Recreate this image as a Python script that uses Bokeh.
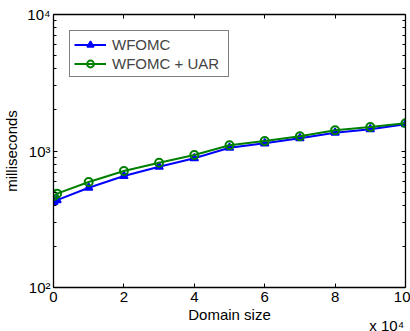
from bokeh.plotting import figure
from bokeh.models import (LinearAxis, LogAxis, FixedTicker, Legend, LegendItem,
                          Range1d)
from bokeh.embed import file_html
from bokeh.resources import INLINE

# Data
domain_size = [100, 1000, 10000, 20000, 30000, 40000, 50000, 60000, 70000, 80000, 90000, 100000]
wfomc = [423, 437, 538, 656, 767, 885, 1057, 1138, 1239, 1362, 1442, 1570]
wfomc_uar = [468, 487, 593, 713, 821, 935, 1101, 1184, 1281, 1418, 1499, 1596]

x_ticks = [0, 20000, 40000, 60000, 80000, 100000]
x_tick_labels = ["0", "2", "4", "6", "8", "10"]
y_ticks = [100, 1000, 10000]
y_tick_labels = ["10\u00b2", "10\u00b3", "10\u2074"]
x_multiplier = "x 10\u2074"

FONT = "Liberation Sans"
FS = "15px"

p = figure(frame_width=352, frame_height=273, y_axis_type="log",
           x_range=Range1d(0, 100000), y_range=Range1d(100, 10000),
           output_backend="svg", toolbar_location=None,
           min_border_left=53, min_border_right=5, min_border_top=14,
           min_border_bottom=44)
p.xgrid.visible = False
p.ygrid.visible = False
p.outline_line_color = None

minor_y = [m * 10 ** e for e in (2, 3) for m in range(2, 10)]

def style_axis(ax, labels=True):
    ax.axis_line_color = "black"
    ax.axis_line_width = 1.3
    ax.major_tick_line_color = "black"
    ax.minor_tick_line_color = "black"
    ax.major_tick_in = 4
    ax.major_tick_out = 0
    ax.minor_tick_in = 3
    ax.minor_tick_out = 0
    ax.major_label_text_font = FONT
    ax.major_label_text_font_size = FS
    ax.major_label_text_color = "black"
    ax.axis_label_text_font = FONT
    ax.axis_label_text_font_size = FS
    ax.axis_label_text_font_style = "normal"
    ax.axis_label_text_color = "black"
    if not labels:
        ax.major_label_text_font_size = "0px"
        ax.major_label_standoff = 0
        ax.major_label_text_alpha = 0

xa = p.xaxis[0]
xa.ticker = FixedTicker(ticks=x_ticks)
xa.major_label_overrides = {t: l for t, l in zip(x_ticks, x_tick_labels)}
xa.axis_label = "Domain size"
xa.axis_label_standoff = 1
xa.major_label_standoff = 4
style_axis(xa)

ya = p.yaxis[0]
ya.ticker = FixedTicker(ticks=y_ticks, minor_ticks=minor_y)
ya.major_label_overrides = {t: l for t, l in zip(y_ticks, y_tick_labels)}
ya.axis_label = "milliseconds"
ya.axis_label_standoff = 4
ya.major_label_standoff = 3
style_axis(ya)

top = LinearAxis(ticker=FixedTicker(ticks=x_ticks))
style_axis(top, labels=False)
p.add_layout(top, "above")
right = LogAxis(ticker=FixedTicker(ticks=y_ticks, minor_ticks=minor_y))
style_axis(right, labels=False)
p.add_layout(right, "right")

# multiplier text under the x axis, at its right end (label is centred on
# the axis end, so pad it on the right with non-breaking spaces)
mult = LinearAxis(ticker=FixedTicker(ticks=[]),
                  axis_label=x_multiplier + "\u00a0" * 9)
style_axis(mult, labels=False)
mult.axis_line_color = None
mult.major_tick_in = 0
mult.minor_tick_in = 0
mult.axis_label_align = "end"
mult.axis_label_standoff = -9
p.add_layout(mult, "below")

l1 = p.line(domain_size, wfomc, line_color="blue", line_width=2)
m1 = p.scatter(domain_size, wfomc, marker="triangle", size=8,
               fill_color="blue", line_color="blue", line_width=1.5)
l2 = p.line(domain_size, wfomc_uar, line_color="green", line_width=2)
m2 = p.scatter(domain_size, wfomc_uar, marker="circle", size=8,
               fill_color=None, line_color="green", line_width=2)

legend = Legend(items=[LegendItem(label="WFOMC", renderers=[l1, m1]),
                       LegendItem(label="WFOMC + UAR", renderers=[l2, m2])],
                location="top_left", margin=16,
                border_line_color="black", border_line_width=1,
                background_fill_color="white", background_fill_alpha=1,
                label_text_font=FONT, label_text_font_size=FS,
                glyph_width=32, glyph_height=17, label_height=18,
                label_standoff=6, padding=4, spacing=1, label_width=112)
p.add_layout(legend)

open("out.html", "w").write(file_html(p, INLINE))
